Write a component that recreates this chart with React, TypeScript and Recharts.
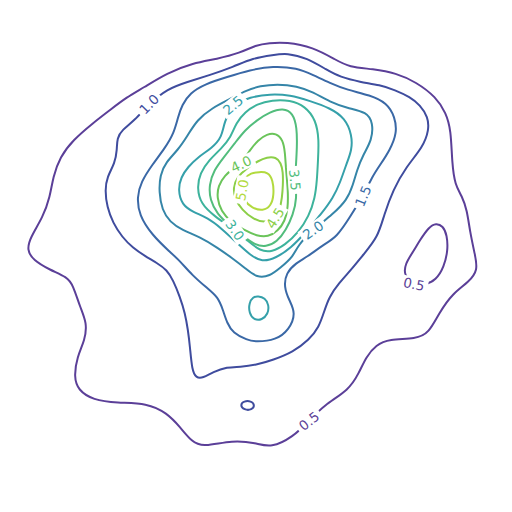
import { ComposedChart, Line, Scatter, XAxis, YAxis } from 'recharts';

type Pt = [number, number];

// contour paths in pixel space (y grows downward)
const level05: Pt[] = [
  [309, 421], [324, 405], [349, 390], [359, 373], [366, 357], [376, 345], [389, 339], [416, 339],
  [429, 333], [439, 313], [453, 293], [469, 282], [478, 270], [475, 255], [470, 232], [467, 210],
  [462, 196], [455, 185], [452, 163], [451, 130], [446, 113], [436, 97], [416, 82], [396, 73],
  [373, 69], [349, 67], [336, 60], [313, 47], [286, 42], [269, 43], [256, 45], [240, 53],
  [217, 59], [193, 63], [167, 73], [143, 88], [127, 97], [110, 110], [93, 123], [73, 140],
  [60, 157], [53, 177], [50, 197], [43, 217], [30, 238], [27, 250], [33, 260], [50, 270],
  [67, 277], [73, 285], [80, 307], [87, 323], [85, 340], [77, 357], [74, 377], [78, 390],
  [93, 400], [117, 403], [147, 403], [167, 413], [180, 427], [192, 442], [203, 447], [233, 440],
  [256, 443], [271, 448], [293, 437],
];
const level05Island: Pt[] = [
  [414, 284], [425, 285], [436, 280], [444, 267], [448, 250], [447, 235], [443, 226], [436, 223],
  [429, 227], [420, 240], [413, 252], [405, 264], [404, 276],
];
const level10: Pt[] = [
  [149, 104], [167, 89], [187, 82], [210, 75], [233, 67], [253, 58], [273, 55], [287, 53],
  [307, 58], [327, 70], [340, 77], [360, 82], [380, 85], [395, 90], [410, 97], [420, 105],
  [428, 117], [429, 130], [423, 147], [406, 167], [393, 190], [384, 215], [378, 237], [363, 255],
  [351, 270], [339, 283], [329, 297], [324, 312], [319, 327], [309, 340], [293, 352], [273, 360],
  [256, 365], [240, 367], [227, 367], [213, 372], [203, 378], [196, 378], [192, 370], [190, 347],
  [188, 330], [185, 313], [180, 297], [173, 280], [167, 270], [157, 263], [145, 256], [133, 248],
  [122, 237], [113, 223], [107, 207], [105, 190], [107, 177], [115, 163], [117, 150], [117, 138],
  [122, 130], [135, 120],
];
const level10Islet: Pt[] = [
  [240, 405], [244, 401], [251, 401], [255, 405], [252, 410], [244, 410],
];
const level15: Pt[] = [
  [363, 196], [372, 177], [380, 165], [390, 150], [397, 133], [395, 117], [387, 103], [370, 95],
  [347, 90], [330, 83], [313, 75], [297, 68], [273, 66], [250, 70], [227, 77], [205, 84],
  [190, 93], [182, 105], [178, 117], [174, 133], [165, 148], [152, 165], [141, 182], [137, 197],
  [139, 215], [152, 235], [170, 252], [180, 261], [192, 275], [207, 288], [218, 297], [223, 310],
  [227, 323], [233, 333], [247, 340], [256, 342], [276, 340], [289, 330], [296, 313], [289, 300],
  [284, 287], [286, 273], [296, 263], [307, 257], [323, 245], [337, 237], [350, 217],
];
const level20: Pt[] = [
  [313, 230], [333, 214], [347, 200], [353, 185], [357, 170], [363, 155], [372, 140], [373, 123],
  [367, 112], [347, 108], [330, 102], [313, 92], [297, 86], [277, 84], [260, 86], [247, 90],
  [230, 99], [212, 108], [197, 120], [188, 135], [178, 150], [166, 162], [160, 175], [159, 192],
  [162, 210], [170, 222], [182, 230], [200, 237], [218, 248], [232, 258], [245, 268], [257, 278],
  [270, 276], [280, 268], [293, 257], [298, 245],
];
const level25: Pt[] = [
  [233, 105], [250, 97], [270, 94], [290, 95], [310, 101], [330, 108], [345, 118], [352, 135],
  [352, 150], [346, 165], [340, 183], [333, 198], [322, 213], [306, 232], [291, 248], [276, 258],
  [262, 262], [250, 255], [236, 242], [221, 228], [208, 218], [193, 212], [182, 205], [178, 190],
  [181, 177], [188, 167], [198, 157], [212, 148], [222, 137], [224, 122],
];
const level25Islet: Pt[] = [
  [258, 296], [265, 298], [269, 305], [268, 314], [262, 320], [254, 320], [249, 313], [249, 303],
  [253, 297],
];
const level30: Pt[] = [
  [235, 230], [248, 241], [260, 251], [272, 252], [285, 245], [298, 233], [309, 216], [315, 198],
  [317, 180], [318, 160], [319, 140], [316, 120], [305, 106], [290, 100], [272, 100], [257, 104],
  [245, 112], [236, 123], [231, 137], [221, 149], [209, 160], [200, 173], [197, 188], [201, 204],
  [214, 216],
];
const level35: Pt[] = [
  [295, 180], [297, 198], [293, 215], [286, 230], [277, 242], [266, 247], [255, 245], [243, 236],
  [230, 226], [217, 214], [210, 200], [209, 185], [214, 170], [224, 157], [235, 143], [245, 130],
  [257, 120], [270, 112], [283, 108], [293, 113], [297, 128], [297, 147], [296, 165],
];
const level40: Pt[] = [
  [241, 164], [250, 150], [258, 140], [267, 134], [276, 133], [283, 140], [285, 152], [286, 170],
  [288, 190], [288, 208], [285, 221], [278, 231], [268, 237], [257, 236], [244, 230], [231, 222],
  [221, 211], [217, 198], [218, 186], [225, 175], [233, 169],
];
const level45: Pt[] = [
  [275, 218], [280, 209], [282, 198], [283, 185], [283, 172], [281, 163], [276, 157], [267, 157],
  [258, 161], [247, 168], [237, 177], [233, 188], [235, 199], [242, 210], [253, 219], [265, 223],
];
const level50: Pt[] = [
  [242, 190], [244, 178], [251, 173], [259, 172], [268, 172], [273, 180], [274, 195], [271, 206],
  [263, 211], [252, 208], [244, 201],
];

const contours: { level: number; pts: Pt[] }[] = [
  { level: 0.5, pts: level05 },
  { level: 0.5, pts: level05Island },
  { level: 1.0, pts: level10 },
  { level: 1.0, pts: level10Islet },
  { level: 1.5, pts: level15 },
  { level: 2.0, pts: level20 },
  { level: 2.5, pts: level25 },
  { level: 2.5, pts: level25Islet },
  { level: 3.0, pts: level30 },
  { level: 3.5, pts: level35 },
  { level: 4.0, pts: level40 },
  { level: 4.5, pts: level45 },
  { level: 5.0, pts: level50 },
];

// inline contour labels: position, level, text angle
const labels = [
  { x: 309, y: 421, level: 0.5, angle: -38 },
  { x: 414, y: 284, level: 0.5, angle: 12 },
  { x: 149, y: 104, level: 1.0, angle: -45 },
  { x: 363, y: 196, level: 1.5, angle: -68 },
  { x: 313, y: 230, level: 2.0, angle: -35 },
  { x: 233, y: 105, level: 2.5, angle: -40 },
  { x: 235, y: 230, level: 3.0, angle: 55 },
  { x: 295, y: 180, level: 3.5, angle: 85 },
  { x: 241, y: 164, level: 4.0, angle: -25 },
  { x: 275, y: 218, level: 4.5, angle: -58 },
  { x: 242, y: 190, level: 5.0, angle: -80 },
];

const levelColors: Record<string, string> = {
  '0.5': '#5b3f98',
  '1.0': '#3f4c9e',
  '1.5': '#3a68a6',
  '2.0': '#3585a8',
  '2.5': '#35a0aa',
  '3.0': '#3db39c',
  '3.5': '#52bd7c',
  '4.0': '#6ac45a',
  '4.5': '#8ccf48',
  '5.0': '#b2da3e',
};

const colorOf = (level: number) => levelColors[level.toFixed(1)];

const ContourLabel = (props: any) => {
  const { cx, cy, payload } = props;
  const text = payload.level.toFixed(1);
  return (
    <g transform={`translate(${cx},${cy}) rotate(${payload.angle})`}>
      <rect x={-14} y={-7} width={28} height={14} fill="#ffffff" />
      <text
        x={0}
        y={0}
        textAnchor="middle"
        dominantBaseline="central"
        fontFamily="DejaVu Sans"
        fontSize={13.5}
        fill={colorOf(payload.level)}
      >
        {text}
      </text>
    </g>
  );
};

export default function App() {
  return (
    <div style={{ position: 'absolute', left: 0, top: 0, width: 512, height: 512, background: '#fff' }}>
      <ComposedChart width={512} height={512} margin={{ top: 0, right: 0, bottom: 0, left: 0 }}>
        <XAxis type="number" dataKey="x" domain={[0, 512]} hide allowDataOverflow />
        <YAxis type="number" dataKey="y" domain={[0, 512]} reversed hide allowDataOverflow />
        {contours.map((c, i) => (
          <Line
            key={i}
            data={c.pts.map(([x, y]) => ({ x, y }))}
            dataKey="y"
            type="basisClosed"
            stroke={colorOf(c.level)}
            strokeWidth={2}
            dot={false}
            activeDot={false}
            isAnimationActive={false}
          />
        ))}
        <Scatter data={labels} dataKey="y" shape={ContourLabel} isAnimationActive={false} />
      </ComposedChart>
    </div>
  );
}
